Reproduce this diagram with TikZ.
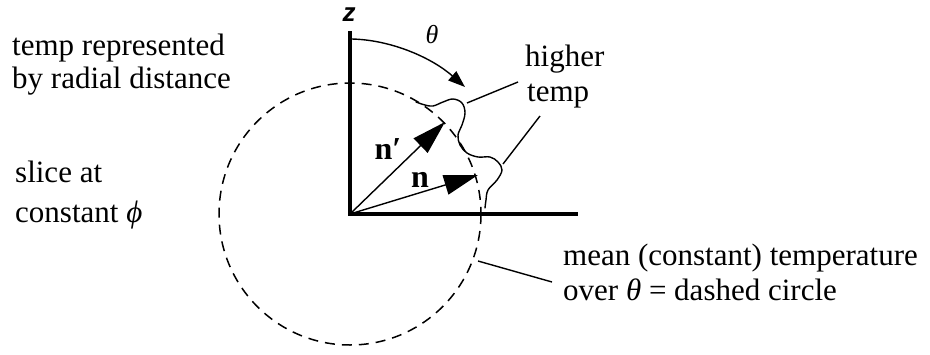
\documentclass[tikz,border=0pt]{standalone}
\usepackage{fontspec}
\setmainfont{Liberation Serif}
\newfontfamily\zfont{Liberation Sans}
\usetikzlibrary{arrows.meta}
\begin{document}
\begin{tikzpicture}[x=1pt,y=-1pt,
  lbl/.style={anchor=base west, inner sep=0pt, font=\fontsize{31}{33}\selectfont},
  vec/.style={anchor=base, inner sep=0pt, font=\fontsize{32}{33}\selectfont\bfseries},
  thinl/.style={line width=1.4pt},
  axisl/.style={line width=4pt, line join=miter},
  dashc/.style={line width=1.5pt, dash pattern=on 10pt off 7pt},
  bighead/.style={-{Triangle[length=34pt,width=20pt]}},
  smallhead/.style={-{Triangle[length=17pt,width=12pt]}}]
\useasboundingbox (0,0) rectangle (930,354);

% key points
\coordinate (O) at (350,214);
\coordinate (ztop) at (350,31);
\coordinate (xend) at (578,214);
\coordinate (thA) at (352,39);
\coordinate (thB) at (465,87);
\coordinate (npt) at (445,122);
\coordinate (nt) at (478,175);

% dashed mean circle
\draw[dashc] (O) circle[radius=131];

% axes
\draw[axisl] (ztop) -- (O) -- (xend);

% theta arrow
\draw[thinl, smallhead] (thA) .. controls (392,40) and (432,58) .. (thB);

% vectors
\draw[thinl, bighead] (O) -- (npt);
\draw[thinl, bighead] (O) -- (nt);

% wavy temperature curve
\draw[thinl, line cap=round] plot[smooth, tension=0.6] coordinates {
  (416,102) (425,105) (433,106) (443,102) (453,99) (462,103) (465,113)
  (462,125) (458,135) (460,145) (467,153) (478,157) (490,157) (498,162)
  (502,170) (497,180) (488,190) (486,200) (485,208)};

% leader lines
\coordinate (hA) at (467,103);
\coordinate (hB) at (518,82);
\coordinate (hC) at (503,164);
\coordinate (hD) at (540,116);
\coordinate (mA) at (478,261);
\coordinate (mB) at (552,282);
\draw[thinl] (hA) -- (hB);
\draw[thinl] (hC) -- (hD);
\draw[thinl] (mA) -- (mB);

% labels
\node[anchor=base, inner sep=0pt, font=\zfont\fontsize{26}{26}\selectfont\bfseries\itshape] (zlab) at (349,21) {z};
\node[anchor=base, inner sep=0pt, font=\fontsize{26}{26}\selectfont\itshape] (thlab) at (432,43) {θ};
\node[vec] (nplab) at (388,159) {n′};
\node[vec] (nlab) at (420,187) {n};

\node[lbl] (t1) at (12,55) {temp represented};
\node[lbl] (t2) at (12,88) {by radial distance};
\node[lbl] (s1) at (15,182) {slice at};
\node[lbl] (s2) at (15,222) {constant \textit{ϕ}};
\node[lbl] (h1) at (525,66) {higher};
\node[lbl] (h2) at (527,101) {temp};
\node[lbl] (m1) at (563,265) {mean (constant) temperature};
\node[lbl] (m2) at (563,300) {over \textit{θ} = dashed circle};
\end{tikzpicture}
\end{document}
